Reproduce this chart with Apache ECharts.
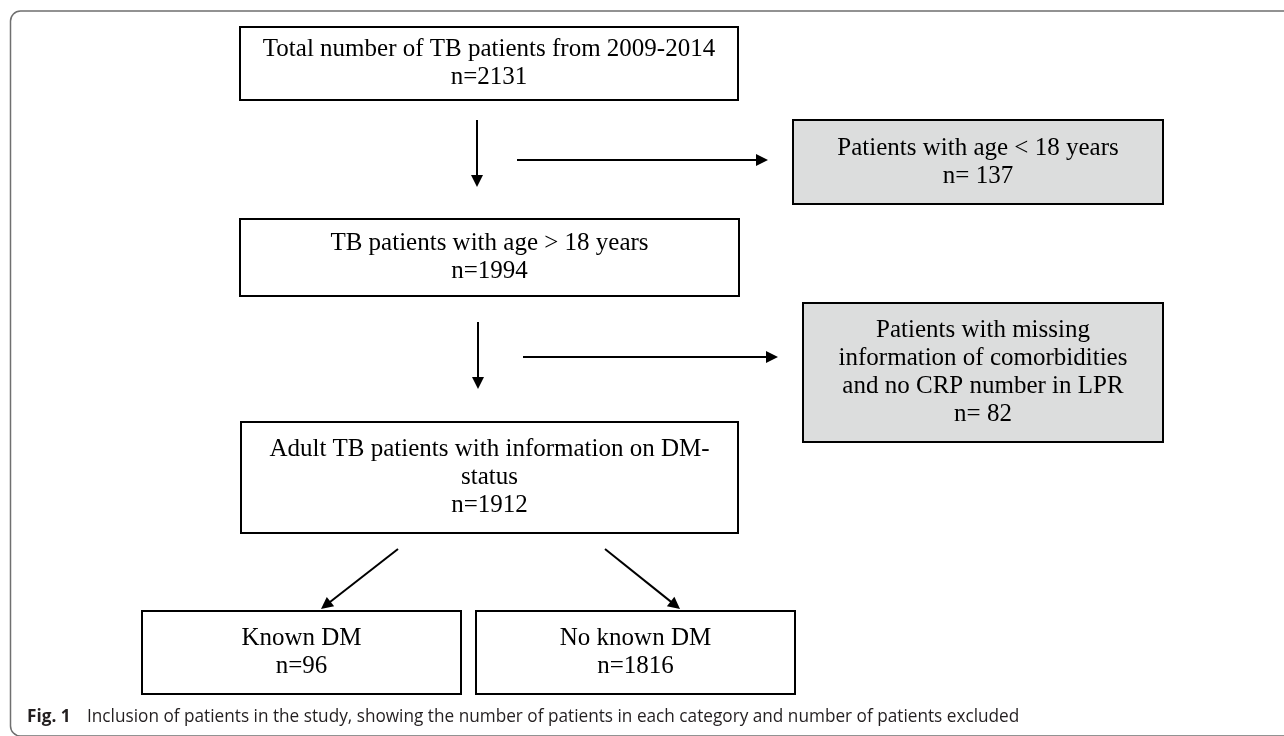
<!DOCTYPE html>
<html>
<head>
<meta charset="utf-8">
<script src="https://cdn.jsdelivr.net/npm/echarts@6/dist/echarts.min.js"></script>
<style>
  html, body { margin: 0; padding: 0; background: #ffffff; }
  #chart { width: 1284px; height: 736px; }
</style>
</head>
<body>
<div id="chart"></div>
<script>
// ---- data ----
const stageTitles = [
  'Total number of TB patients from 2009-2014',
  'TB patients with age > 18 years',
  'Adult TB patients with information on DM-\nstatus',
  'Known DM',
  'No known DM'
];
const stageCounts = [2131, 1994, 1912, 96, 1816];
const excludedTitles = [
  'Patients with age < 18 years',
  'Patients with missing\ninformation of comorbidities\nand no CRP number in LPR'
];
const excludedCounts = [137, 82];
const captionLabel = 'Fig. 1';
const captionText = 'Inclusion of patients in the study, showing the number of patients in each category and number of patients excluded';

// ---- layout (pixels) ----
const stageBoxes = [
  { x: 240, y: 27,  w: 498, h: 73 },
  { x: 240, y: 219, w: 499, h: 77 },
  { x: 241, y: 422, w: 497, h: 111 },
  { x: 142, y: 611, w: 319, h: 83 },
  { x: 476, y: 611, w: 319, h: 83 }
];
const excludedBoxes = [
  { x: 793, y: 120, w: 370, h: 84 },
  { x: 803, y: 303, w: 360, h: 139 }
];
const arrows = [
  [[477, 120], [477, 187]],
  [[517, 160], [768, 160]],
  [[478, 322], [478, 389]],
  [[523, 357], [778, 357]],
  [[398, 549], [321, 609]],
  [[605, 549], [680, 609]]
];

const serif = '"Liberation Serif", "Times New Roman", "DejaVu Serif", serif';
const sans = '"Open Sans", "Noto Sans", sans-serif';

function fitSize(text, weight, family, targetWidth) {
  const c = document.createElement('canvas').getContext('2d');
  c.font = weight + ' 100px ' + family;
  return 100 * targetWidth / c.measureText(text).width;
}

const elements = [];

// outer rounded frame
elements.push({
  type: 'rect',
  shape: { x: 10.5, y: 11, width: 1300, height: 725, r: 10 },
  style: { fill: 'none', stroke: '#6f6f6f', lineWidth: 1.5 },
  silent: true
});

function addBox(b, text, fill) {
  elements.push({
    type: 'rect',
    shape: { x: b.x, y: b.y, width: b.w, height: b.h },
    style: { fill: fill, stroke: '#000000', lineWidth: 2 },
    silent: true
  });
  elements.push({
    type: 'text',
    x: b.x + b.w / 2,
    y: b.y + b.h / 2,
    style: {
      text: text,
      fontFamily: serif,
      fontSize: 25,
      lineHeight: 28,
      fill: '#000000',
      align: 'center',
      verticalAlign: 'middle'
    },
    silent: true
  });
}

stageTitles.forEach(function (t, i) {
  addBox(stageBoxes[i], t + '\nn=' + stageCounts[i], '#ffffff');
});
excludedTitles.forEach(function (t, i) {
  addBox(excludedBoxes[i], t + '\nn= ' + excludedCounts[i], '#dcdddd');
});

// arrows
const headLen = 12, headHalf = 6;
arrows.forEach(function (a) {
  const p0 = a[0], p1 = a[1];
  const dx = p1[0] - p0[0], dy = p1[1] - p0[1];
  const len = Math.sqrt(dx * dx + dy * dy);
  const ux = dx / len, uy = dy / len;
  const bx = p1[0] - ux * headLen, by = p1[1] - uy * headLen;
  elements.push({
    type: 'line',
    shape: { x1: p0[0], y1: p0[1], x2: bx + ux * 1, y2: by + uy * 1 },
    style: { stroke: '#000000', lineWidth: 2 },
    silent: true
  });
  elements.push({
    type: 'polygon',
    shape: { points: [
      [p1[0], p1[1]],
      [bx - uy * headHalf, by + ux * headHalf],
      [bx + uy * headHalf, by - ux * headHalf]
    ] },
    style: { fill: '#000000' },
    silent: true
  });
});

// caption
const capSize = Math.min(18, fitSize(captionText, 'normal', sans, 933));
elements.push({
  type: 'text',
  x: 27, y: 717,
  style: {
    text: captionLabel,
    fontFamily: sans, fontWeight: 'bold', fontSize: capSize,
    fill: '#231f20', align: 'left', verticalAlign: 'middle'
  },
  silent: true
});
elements.push({
  type: 'text',
  x: 87, y: 717,
  style: {
    text: captionText,
    fontFamily: sans, fontSize: capSize,
    fill: '#231f20', align: 'left', verticalAlign: 'middle'
  },
  silent: true
});

const chart = echarts.init(document.getElementById('chart'), null, { renderer: 'canvas', width: 1284, height: 736 });
chart.setOption({
  animation: false,
  backgroundColor: '#ffffff',
  graphic: { elements: elements }
});
</script>
</body>
</html>
